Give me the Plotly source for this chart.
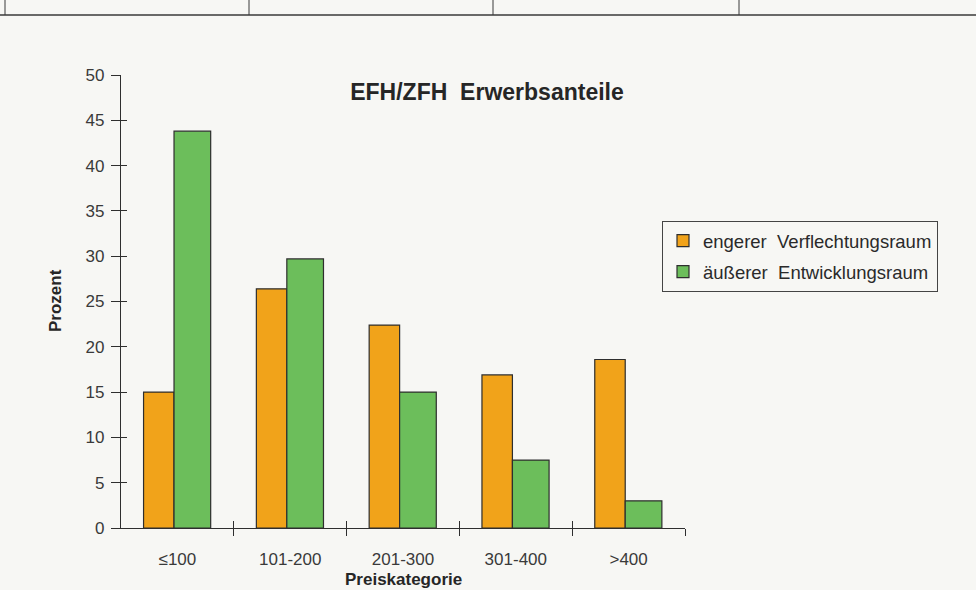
import plotly.graph_objects as go

# Preiskategorien (Tsd. EUR) und Erwerbsanteile in Prozent
categories = ["≤100", "101-200", "201-300", "301-400", ">400"]
engerer = [15.0, 26.4, 22.4, 16.9, 18.6]
aeusserer = [43.8, 29.7, 15.0, 7.5, 3.0]
y_ticks = [0, 5, 10, 15, 20, 25, 30, 35, 40, 45, 50]

ORANGE = "#F1A31A"
GREEN = "#6CBE5B"
INK = "#2e2e2e"
PAPER = "#f7f7f4"
FONT = "Liberation Sans, Arial, sans-serif"

W, H = 976, 590
ML, MR, MT, MB = 121, 291, 75, 62
PW, PH = W - ML - MR, H - MT - MB


def px_x(px):
    return (px - ML) / PW


def px_y(py):
    return (H - MB - py) / PH


fig = go.Figure()
fig.add_trace(go.Bar(
    x=categories, y=engerer, name="engerer\u00a0 Verflechtungsraum",
    marker=dict(color=ORANGE, line=dict(color=INK, width=1.2)),
    offset=-0.30, width=0.27, legendgroup="a",
))
fig.add_trace(go.Bar(
    x=categories, y=aeusserer, name="äußerer\u00a0 Entwicklungsraum",
    marker=dict(color=GREEN, line=dict(color=INK, width=1.2)),
    offset=-0.03, width=0.325, legendgroup="b",
))

# Unsichtbare Hilfsspuren, damit die Zusatzachsen (Kreuz-Ticks) gezeichnet werden
boundaries = [i + 0.5 for i in range(len(categories))]
for xa, ya in [("x2", "y"), ("x3", "y"), ("x", "y2")]:
    fig.add_trace(go.Scatter(
        x=[None], y=[None], xaxis=xa, yaxis=ya, mode="markers",
        showlegend=False, hoverinfo="skip",
    ))

tick_font = dict(family=FONT, size=17, color="#3a3a3a")

fig.update_layout(
    width=W, height=H,
    margin=dict(l=ML, r=MR, t=MT, b=MB),
    paper_bgcolor=PAPER, plot_bgcolor=PAPER,
    barmode="overlay",
    showlegend=True,
    title=dict(
        text="<b>EFH/ZFH\u00a0 Erwerbsanteile</b>",
        font=dict(family=FONT, size=23, color="#262626"),
        x=px_x(487), xref="paper", xanchor="center",
        y=1 - 91.7 / H, yref="container", yanchor="middle",
    ),
    legend=dict(
        x=px_x(662), y=px_y(221), xanchor="left", yanchor="top",
        bgcolor=PAPER, bordercolor="#444", borderwidth=1,
        font=dict(family=FONT, size=18.5, color="#2a2a2a"),
        traceorder="grouped", tracegroupgap=4,
    ),
    xaxis=dict(
        type="category", categoryarray=categories, range=[-0.5, 4.5],
        showline=True, linecolor=INK, linewidth=1.3,
        ticks="", showgrid=False, zeroline=False,
        tickfont=tick_font, ticklabelstandoff=15,
    ),
    xaxis2=dict(
        overlaying="x", anchor="y", range=[-0.5, 4.5],
        tickmode="array", tickvals=boundaries, showticklabels=False,
        ticks="outside", ticklen=7, tickwidth=1.3, tickcolor=INK,
        showgrid=False, zeroline=False, showline=False,
    ),
    xaxis3=dict(
        overlaying="x", anchor="y", range=[-0.5, 4.5],
        tickmode="array", tickvals=boundaries, showticklabels=False,
        ticks="inside", ticklen=7, tickwidth=1.3, tickcolor=INK,
        showgrid=False, zeroline=False, showline=False,
    ),
    yaxis=dict(
        range=[0, 50], tickmode="array", tickvals=y_ticks,
        showline=True, linecolor=INK, linewidth=1.3,
        ticks="outside", ticklen=9, tickwidth=1.3, tickcolor=INK,
        showgrid=False, zeroline=False,
        tickfont=tick_font, ticklabelstandoff=3,
    ),
    yaxis2=dict(
        overlaying="y", anchor="x", range=[0, 50],
        tickmode="array", tickvals=y_ticks, showticklabels=False,
        ticks="inside", ticklen=6, tickwidth=1.3, tickcolor=INK,
        showgrid=False, zeroline=False, showline=False,
    ),
)

# Achsentitel
fig.add_annotation(
    text="<b>Prozent</b>", textangle=-90,
    x=px_x(55), y=px_y(301), xref="paper", yref="paper",
    xanchor="center", yanchor="middle",
    showarrow=False, font=dict(family=FONT, size=17, color="#262626"),
)
fig.add_annotation(
    text="<b>Preiskategorie</b>",
    x=px_x(403), y=px_y(579), xref="paper", yref="paper",
    xanchor="center", yanchor="middle",
    showarrow=False, font=dict(family=FONT, size=17, color="#262626"),
)

# Tabellenrahmen am oberen Seitenrand
line_style = dict(color="#3a3a3a", width=1.5)
fig.add_shape(type="line", xref="paper", yref="paper",
              x0=px_x(0), x1=px_x(W), y0=px_y(15), y1=px_y(15), line=line_style)
for vx in [5, 249, 493, 739]:
    fig.add_shape(type="line", xref="paper", yref="paper",
                  x0=px_x(vx), x1=px_x(vx), y0=px_y(0), y1=px_y(15),
                  line=dict(color="#3a3a3a", width=1))

fig.write_html("out.html")
